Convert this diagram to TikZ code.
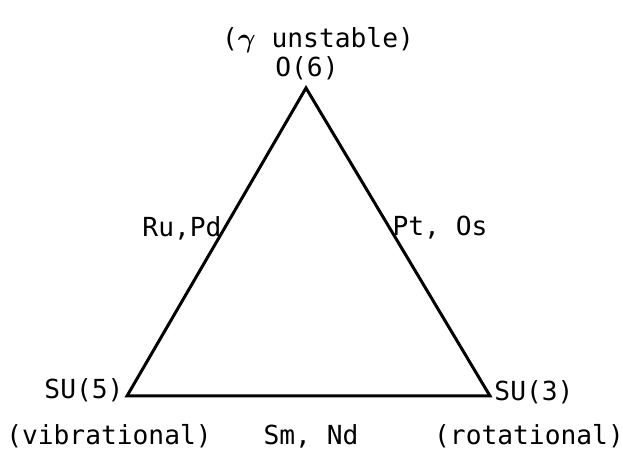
\documentclass[tikz,border=0pt]{standalone}
\usepackage{amsmath}
\usepackage{bm}
\usepackage{fontspec}
\setmainfont{DejaVu Sans Mono}
\tikzset{every path/.style={line width=1.2pt}}
\tikzset{lbl/.style={font=\fontsize{10.5}{12}\selectfont, inner sep=0pt}}

\begin{document}
\begin{tikzpicture}[x=0.4pt,y=-0.4pt]
    \useasboundingbox (0,0) rectangle (623,451);

    \coordinate (o6) at (306,88);
    \coordinate (su5) at (127,396);
    \coordinate (su3) at (490,396);

    \draw[line join=miter] (o6) -- (su5) -- (su3) -- cycle;

    \node[lbl] (top) at (318,40) {($\bm{\gamma}$ unstable)};
    \node[lbl] (otop) at (307,68) {O(6)};
    \node[lbl] (rupd) at (182,228) {Ru,Pd};
    \node[lbl] (ptos) at (440,228) {Pt, Os};
    \node[lbl] (su5l) at (84,390) {SU(5)};
    \node[lbl] (vib) at (109,436) {(vibrational)};
    \node[lbl] (smnd) at (311,436) {Sm, Nd};
    \node[lbl] (su3l) at (534,392) {SU(3)};
    \node[lbl] (rot) at (529,436) {(rotational)};
\end{tikzpicture}
\end{document}
